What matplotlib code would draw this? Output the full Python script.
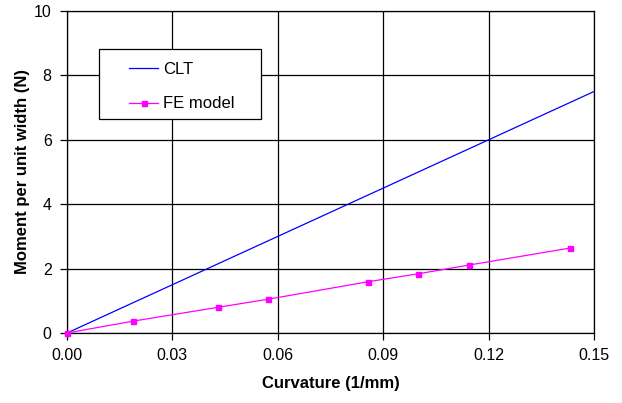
import matplotlib as mpl
mpl.use("Agg")
import matplotlib.pyplot as plt
from matplotlib.patches import Rectangle

# CLT analytical line
clt_x = [0.0, 0.15]
clt_y = [0.0, 7.5]

# FE model results
fe_x = [0.0, 0.0189, 0.0431, 0.0573, 0.0856, 0.1000, 0.1144, 0.1433]
fe_y = [0.0, 0.37, 0.80, 1.05, 1.59, 1.84, 2.11, 2.64]

xticks = [0.00, 0.03, 0.06, 0.09, 0.12, 0.15]
yticks = [0, 2, 4, 6, 8, 10]

plt.rcParams["font.family"] = ["Liberation Sans", "DejaVu Sans"]
plt.rcParams["font.size"] = 11.5

fig = plt.figure(figsize=(6.22, 4.03), dpi=100)
ax = fig.add_axes([67 / 622, 1 - 333 / 403, 527 / 622, 322 / 403])

ax.plot(clt_x, clt_y, color="#0000ff", linewidth=0.9, label="CLT", zorder=3)
ax.plot(fe_x, fe_y, color="#ff00ff", linewidth=0.9, marker="s",
        markersize=3.6, label="FE model", zorder=4, clip_on=False)

ax.set_xlim(0, 0.15)
ax.set_ylim(0, 10)
ax.set_xticks(xticks)
ax.set_xticklabels([f"{t:.2f}" for t in xticks])
ax.set_yticks(yticks)
ax.grid(True, color="black", linewidth=0.9)
ax.set_axisbelow(True)
for s in ax.spines.values():
    s.set_color("black")
    s.set_linewidth(0.9)
ax.tick_params(direction="out", length=5, width=0.9, pad=6)

ax.set_xlabel("Curvature (1/mm)", fontweight="bold", fontsize=12, labelpad=9)
ax.set_ylabel("Moment per unit width (N)", fontweight="bold", fontsize=12,
              labelpad=3)

# legend box
ax.add_patch(Rectangle((32 / 527, 214 / 322), 162 / 527, 70 / 322,
                       transform=ax.transAxes, facecolor="white",
                       edgecolor="black", linewidth=0.9, zorder=5))
ax.legend(loc="upper left", bbox_to_anchor=(62 / 527, 271 / 322),
          frameon=False, borderpad=0, borderaxespad=0, fontsize=12,
          handlelength=1.75, handletextpad=0.3, labelspacing=1.17
          ).set_zorder(6)

fig.savefig("out.png", dpi=100)
